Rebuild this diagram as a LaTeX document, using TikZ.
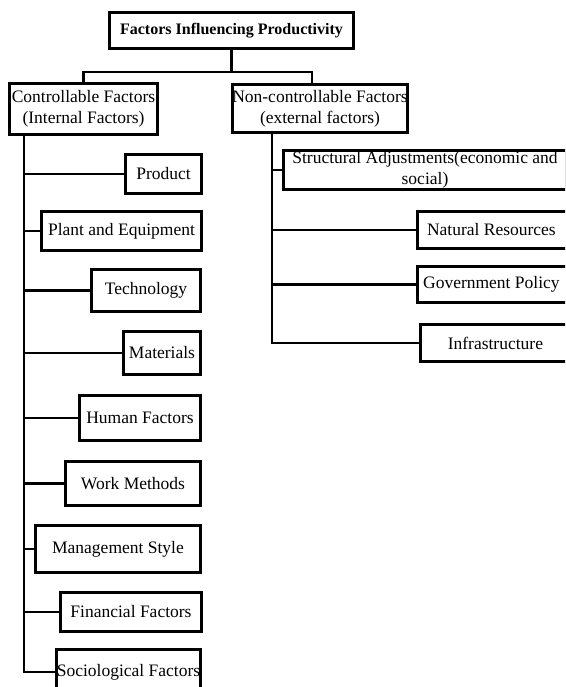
\documentclass[tikz,border=0pt]{standalone}
\usepackage{fontspec}
\setmainfont{Liberation Serif}
\begin{document}
\begin{tikzpicture}[x=1pt,y=-1pt,
  box/.style={draw, line width=2.8pt, inner sep=0pt, align=center,
    font=\fontsize{17.5}{21}\selectfont},
  link/.style={line width=2.8pt}]
\useasboundingbox (0,0) rectangle (565,687);
\clip (0,0) rectangle (565,687);
% helper: node at center with size
\newcommand{\bx}[6]{%
  \node[box, minimum width={#3-#2-2.8}, minimum height={#5-#4-2.8}]
    (#1) at ({(#2+#3)/2},{(#4+#5)/2}) {#6};}
\node[box, font=\fontsize{16}{19}\selectfont\bfseries, minimum width=244.2, minimum height=36.2]
  (title) at (231.5,30.5) {Factors Influencing Productivity};
\bx{ctrl}{8}{159}{82}{136}{\fontsize{17.5}{24.5}\selectfont Controllable Factors\\(Internal Factors)}
\bx{nc}{232}{408}{83}{134}{Non-controllable Factors\\(external factors)}
% left children
\bx{product}{124}{203}{153}{195}{Product}
\bx{plant}{40}{203}{210}{252}{Plant and Equipment}
\bx{tech}{90}{202}{268}{313}{Technology}
\bx{mat}{122}{202}{330}{376}{Materials}
\bx{human}{78}{202}{394}{442}{Human Factors}
\bx{work}{64}{202}{460}{507}{Work Methods}
\bx{mgmt}{34}{202}{524}{574}{Management Style}
\bx{fin}{59}{203}{591}{633}{Financial Factors}
\bx{soc}{55}{202}{648}{696}{\raisebox{4pt}{Sociological Factors}}
% right children (extend past the right edge, clipped)
\bx{struct}{282}{568}{149}{191}{Structural Adjustments(economic and\\social)}
\node[box, minimum width=160, minimum height=37.2, anchor=west] (nat) at (416,230)
  {\hspace*{2pt}Natural Resources\hspace*{14pt}};
\node[box, minimum width=160, minimum height=36.2, anchor=west] (gov) at (416,284.5)
  {\hspace*{2pt}Government Policy\hspace*{14pt}};
\node[box, minimum width=160, minimum height=37.2, anchor=west] (infra) at (419,343)
  {\hspace*{4pt}Infrastructure\hspace*{14pt}};
% top connectors
\coordinate (jl) at (83.5,72);
\coordinate (jr) at (312,72);
\draw[link] (title.south) -- (title.south |- jl);
\draw[link] (ctrl.north) -- (jl) -- (jr) -- (jr |- nc.north);
% left spine
\coordinate (sl) at (24,0);
\foreach \c in {product,plant,tech,mat,human,work,mgmt,fin,soc}
  \draw[link] (ctrl.south -| sl) |- (\c.west);
% right spine
\coordinate (sr) at (272,0);
\foreach \c in {struct,nat,gov,infra}
  \draw[link] (nc.south -| sr) |- (\c.west);
\end{tikzpicture}
\end{document}
